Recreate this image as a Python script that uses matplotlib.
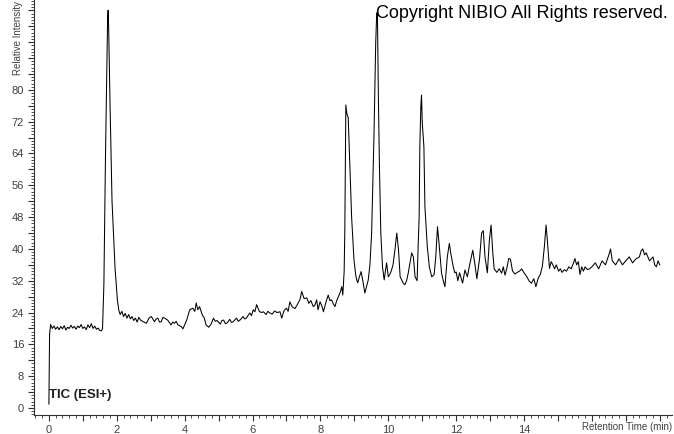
#!/usr/bin/env python3

import matplotlib
matplotlib.use('Agg')
import matplotlib.pyplot as plt
from matplotlib.ticker import MultipleLocator, FuncFormatter

# retention time (min) and relative intensity
time = [0.0, 0.02, 0.05, 0.10, 0.15, 0.20, 0.25, 0.30, 0.35, 0.40, 0.45, 0.50,
        0.55, 0.60, 0.65, 0.70, 0.75, 0.80, 0.85, 0.90, 0.95, 1.00, 1.05, 1.10,
        1.15, 1.20, 1.25, 1.30, 1.35, 1.40, 1.45, 1.50, 1.55, 1.58, 1.62, 1.67,
        1.71, 1.73, 1.745, 1.76, 1.80, 1.86, 1.95, 2.02, 2.06, 2.10, 2.15, 2.20,
        2.25, 2.30, 2.35, 2.40, 2.45, 2.50, 2.55, 2.60, 2.65, 2.70, 2.78, 2.87,
        2.95, 3.02, 3.11, 3.16, 3.21, 3.26, 3.31, 3.36, 3.41, 3.50, 3.55, 3.60,
        3.65, 3.70, 3.75, 3.80, 3.90, 3.95, 4.06, 4.15, 4.24, 4.30, 4.34, 4.39,
        4.44, 4.52, 4.58, 4.63, 4.71, 4.78, 4.85, 4.90, 4.95, 5.05, 5.10, 5.15,
        5.20, 5.25, 5.33, 5.38, 5.43, 5.53, 5.58, 5.63, 5.72, 5.77, 5.82, 5.87,
        5.92, 5.97, 6.02, 6.07, 6.12, 6.20, 6.26, 6.32, 6.40, 6.45, 6.51, 6.58,
        6.65, 6.72, 6.81, 6.86, 6.93, 7.00, 7.05, 7.10, 7.17, 7.25, 7.32, 7.40,
        7.45, 7.52, 7.60, 7.66, 7.72, 7.79, 7.84, 7.89, 7.93, 7.99, 8.05, 8.09,
        8.16, 8.23, 8.28, 8.33, 8.38, 8.43, 8.48, 8.53, 8.58, 8.63, 8.66, 8.70,
        8.72, 8.735, 8.75, 8.78, 8.82, 8.87, 8.92, 8.99, 9.04, 9.07, 9.10, 9.15,
        9.20, 9.25, 9.31, 9.36, 9.41, 9.46, 9.51, 9.58, 9.63, 9.66, 9.68, 9.71,
        9.74, 9.78, 9.83, 9.88, 9.95, 10.00, 10.04, 10.09, 10.14, 10.20, 10.25,
        10.30, 10.35, 10.44, 10.49, 10.54, 10.59, 10.64, 10.69, 10.74, 10.79,
        10.85, 10.88, 10.91, 10.93, 10.96, 10.98, 11.00, 11.05, 11.08, 11.15,
        11.21, 11.28, 11.35, 11.40, 11.45, 11.50, 11.57, 11.62, 11.67, 11.74,
        11.80, 11.84, 11.91, 11.96, 12.00, 12.05, 12.10, 12.19, 12.26, 12.33,
        12.41, 12.49, 12.56, 12.61, 12.69, 12.75, 12.80, 12.85, 12.92, 12.98,
        13.03, 13.08, 13.12, 13.20, 13.27, 13.34, 13.39, 13.44, 13.49, 13.55,
        13.60, 13.66, 13.73, 13.80, 13.88, 13.93, 14.00, 14.07, 14.16, 14.22,
        14.29, 14.35, 14.42, 14.48, 14.54, 14.60, 14.65, 14.68, 14.75, 14.80,
        14.85, 14.90, 14.95, 15.02, 15.07, 15.12, 15.19, 15.25, 15.32, 15.39,
        15.46, 15.50, 15.55, 15.60, 15.65, 15.70, 15.75, 15.80, 15.87, 15.93,
        16.00, 16.10, 16.20, 16.30, 16.40, 16.50, 16.55, 16.60, 16.70, 16.80,
        16.90, 17.00, 17.10, 17.20, 17.30, 17.40, 17.45, 17.50, 17.55, 17.60,
        17.70, 17.80, 17.85, 17.90, 17.95, 18.00]

intensity = [1.0, 18.5, 21.0, 20.0, 20.6, 19.8, 20.4, 19.7, 20.5, 19.9, 20.7, 19.6,
             20.3, 20.0, 20.8, 20.1, 20.5, 19.8, 20.6, 20.2, 21.0, 20.0, 20.4, 19.7,
             20.9, 20.2, 21.2, 20.0, 20.6, 19.8, 20.1, 19.5, 19.4, 20.0, 31.0, 65.0,
             88.0, 98.0, 100.0, 96.0, 77.0, 52.0, 35.0, 27.0, 24.6, 23.5, 24.3, 23.0,
             23.8, 22.6, 23.5, 22.4, 23.0, 22.0, 22.6, 21.6, 22.8, 22.1, 21.7, 21.3,
             22.6, 23.0, 21.7, 22.4, 22.6, 21.6, 21.7, 22.8, 22.6, 22.1, 21.5, 20.9,
             21.6, 21.3, 21.8, 20.9, 20.5, 19.9, 22.1, 24.7, 25.1, 24.3, 26.4, 24.7,
             25.5, 23.4, 22.6, 20.9, 20.3, 21.1, 22.6, 21.8, 22.0, 21.1, 22.0, 22.1,
             21.2, 21.4, 22.3, 21.5, 21.7, 22.6, 21.8, 22.1, 23.0, 22.4, 22.6, 23.3,
             23.9, 23.2, 24.7, 24.2, 26.0, 24.3, 24.0, 24.2, 23.5, 24.3, 23.9, 23.6,
             24.4, 24.0, 24.2, 22.6, 24.5, 25.1, 24.3, 26.7, 25.4, 25.0, 26.0, 27.3,
             29.3, 27.5, 27.7, 26.3, 27.0, 25.5, 25.9, 27.2, 24.7, 26.7, 25.5, 24.2,
             26.5, 28.4, 27.0, 27.2, 26.2, 25.5, 27.0, 28.0, 29.0, 30.5, 28.4, 34.3,
             45.0, 62.0, 76.2, 74.0, 73.0, 60.7, 48.0, 37.2, 33.5, 32.2, 31.5, 33.0,
             34.3, 32.0, 28.9, 30.5, 32.2, 36.0, 44.0, 69.0, 91.8, 99.3, 99.5, 77.5,
             60.7, 44.0, 35.5, 32.2, 36.5, 33.0, 33.5, 34.5, 36.0, 40.0, 44.0,
             40.0, 33.0, 31.4, 31.0, 32.0, 34.0, 36.5, 39.0, 38.0, 33.0,
             32.0, 40.6, 48.0, 65.7, 76.0, 78.7, 72.0, 65.7, 50.6, 40.6,
             35.5, 33.0, 33.5, 38.0, 45.6, 41.0, 33.9, 32.0, 30.5, 38.0,
             41.4, 39.0, 35.7, 34.0, 34.2, 32.0, 34.0, 31.4, 34.7, 33.0,
             36.5, 39.7, 35.7, 32.5, 37.5, 44.0, 44.6, 38.0, 34.0, 42.3,
             46.0, 39.0, 35.0, 34.1, 35.0, 33.9, 35.5, 33.4, 35.0, 37.6,
             37.4, 34.5, 33.7, 34.1, 34.5, 35.0, 34.0, 33.2, 31.8, 31.4,
             32.5, 30.5, 32.7, 33.6, 35.6, 40.6, 46.0, 43.0, 35.1, 36.8,
             36.0, 35.0, 36.0, 34.4, 35.0, 34.1, 34.8, 34.4, 35.5, 35.0,
             36.5, 37.6, 36.0, 36.8, 33.6, 35.5, 34.4, 35.5, 34.8, 35.0,
             35.5, 36.5, 35.0, 37.0, 36.0, 38.5, 40.0, 37.0, 36.0, 37.5,
             36.0, 37.0, 38.0, 36.5, 37.5, 38.0, 39.5, 40.0, 38.5, 39.0,
             37.0, 38.0, 36.0, 35.5, 37.0, 36.0]

x_labels = [0, 2, 4, 6, 8, 10, 12, 14]
y_labels = [0, 8, 16, 24, 32, 40, 48, 56, 64, 72, 80]

grey = '#404040'
font = ['Liberation Sans', 'DejaVu Sans']

fig = plt.figure(figsize=(6.74, 4.34), dpi=100)
ax = fig.add_axes([0.0504, 0.0438, 0.9466, 0.9562])

ax.plot(time, intensity, color='black', lw=0.75)

ax.set_xlim(-0.44, 18.36)
ax.set_ylim(-1.76, 102.6)

for s in ['top', 'right']:
    ax.spines[s].set_visible(False)
for s in ['left', 'bottom']:
    ax.spines[s].set_color('#303030')
    ax.spines[s].set_linewidth(0.8)

# x: major tick every 1 min, label every 2 up to 14, minor every 0.2
ax.xaxis.set_major_locator(MultipleLocator(1))
ax.xaxis.set_minor_locator(MultipleLocator(0.2))
ax.xaxis.set_major_formatter(FuncFormatter(
    lambda v, p: '%d' % round(v) if round(v) in x_labels and abs(v - round(v)) < 1e-6 else ''))

# y: major every 4, label every 8 up to 80, minor every 0.8
ax.yaxis.set_major_locator(MultipleLocator(4))
ax.yaxis.set_minor_locator(MultipleLocator(0.8))
ax.yaxis.set_major_formatter(FuncFormatter(
    lambda v, p: '%d' % round(v) if round(v) in y_labels and abs(v - round(v)) < 1e-6 else ''))

ax.tick_params(which='major', length=4, width=0.8, color='#303030',
               labelsize=8, labelcolor=grey, pad=3)
ax.tick_params(which='minor', length=2, width=0.6, color='#303030')
for lab in ax.get_xticklabels() + ax.get_yticklabels():
    lab.set_family(font)

fig.text(18 / 674, 0.998, 'Relative Intensity', rotation=90, ha='center', va='top',
         fontsize=7, color=grey, family=font)
fig.text(0.997, 1 - 427 / 434, 'Retention Time (min)', ha='right', va='center',
         fontsize=7, color=grey, family=font)
fig.text(49 / 674, 1 - 395 / 434, 'TIC (ESI+)', ha='left', va='center',
         fontsize=9.5, fontweight='bold', color='#202020', family=font)
fig.text(668 / 674, 1 - 14 / 434, 'Copyright NIBIO All Rights reserved.', ha='right',
         va='center', fontsize=13, color='black', family=font)

fig.savefig('out.png', dpi=100)
